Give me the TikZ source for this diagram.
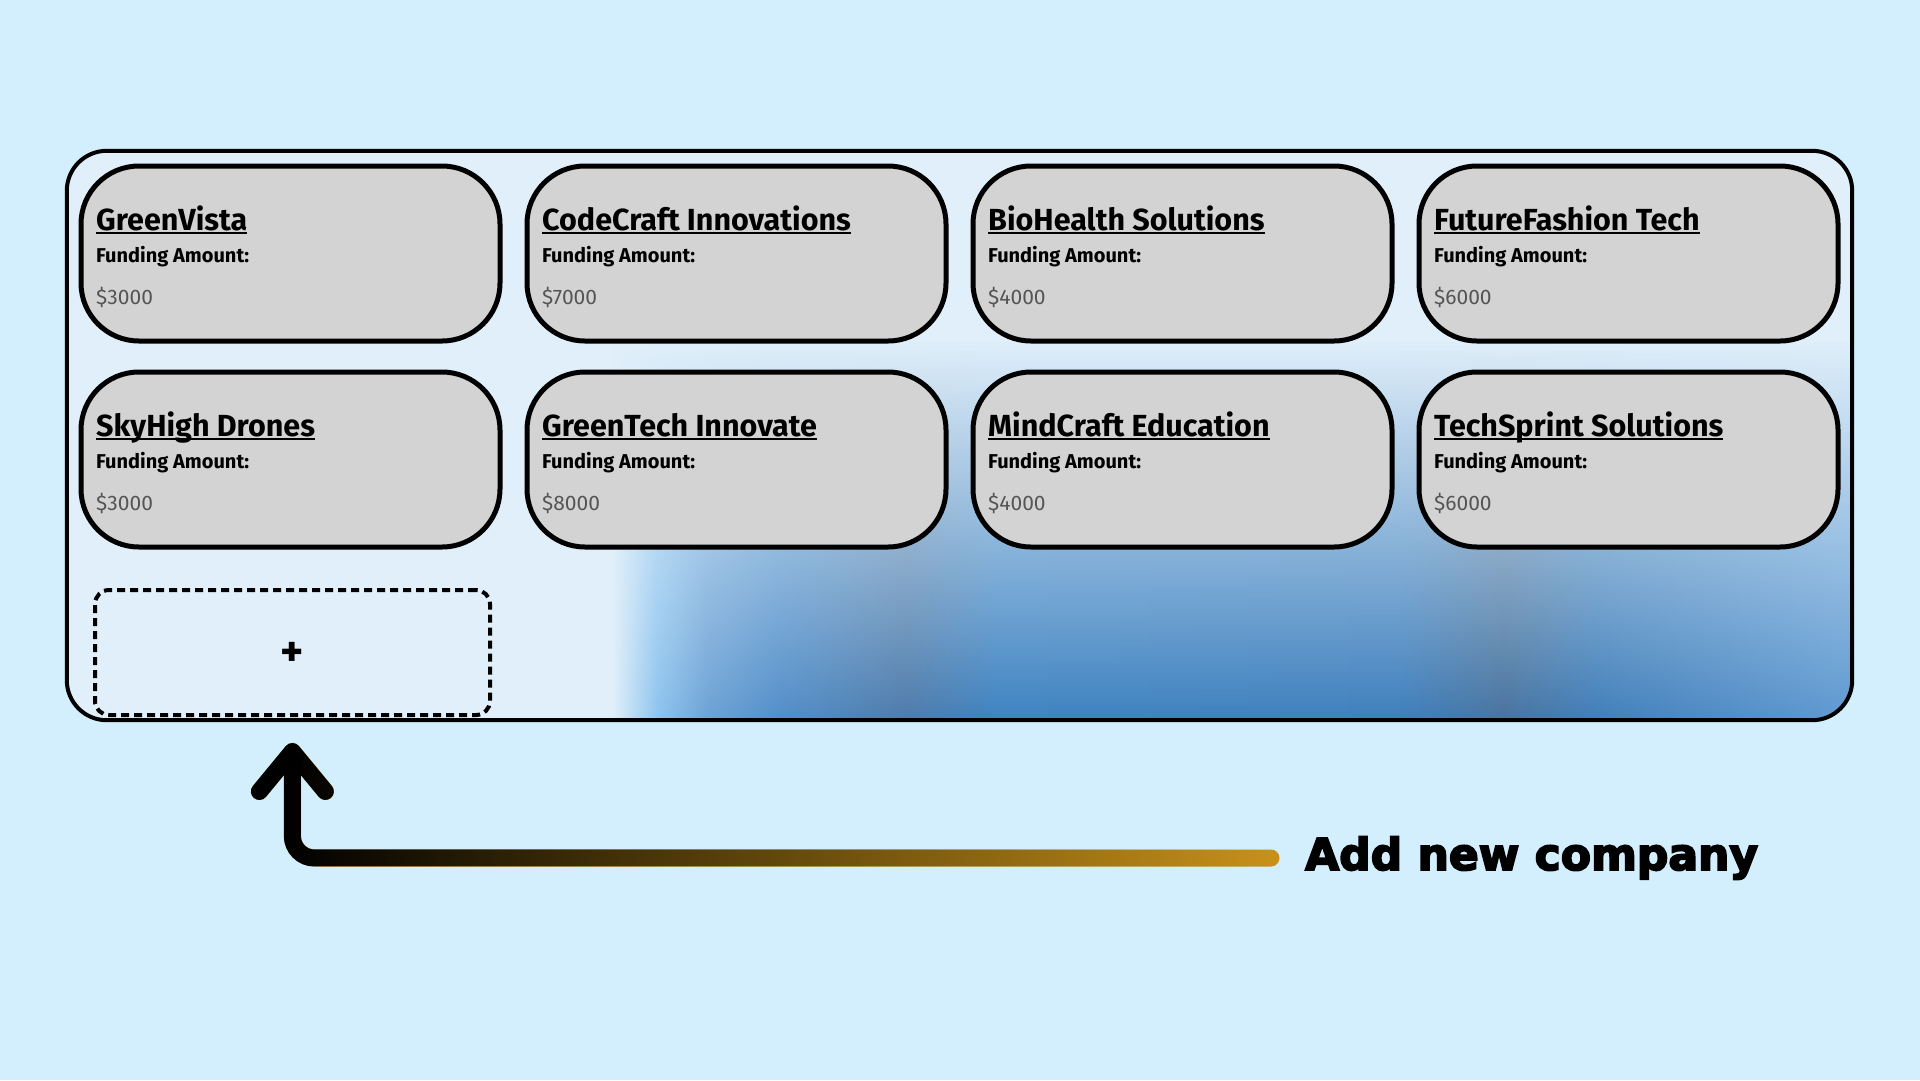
\documentclass[tikz,border=0pt]{standalone}
\usepackage{fontspec}
\setmainfont{Fira Sans}
\newfontfamily\callfont[BoldFeatures={FakeBold=4}]{DejaVu Sans}
\usetikzlibrary{arrows.meta,fadings}

\definecolor{skybg}{HTML}{D3EFFD}
\definecolor{cardgray}{HTML}{D3D3D3}
\definecolor{sumgray}{HTML}{555555}
\definecolor{arrowgold}{HTML}{C9921A}
\definecolor{panA}{HTML}{E0EFFA}
\definecolor{panB}{HTML}{8CC3EE}
\definecolor{panC}{HTML}{6AA0D4}
\definecolor{panD}{HTML}{4E8CC8}
\definecolor{panE}{HTML}{4A78A8}
\definecolor{panF}{HTML}{3A80C0}
\definecolor{panG}{HTML}{3A7CBB}
\definecolor{panH}{HTML}{44709C}
\definecolor{panI}{HTML}{3D7CB8}
\definecolor{panJ}{HTML}{5A96CF}

\pgfdeclarehorizontalshading{panelblue}{100bp}{color(0bp)=(panA); color(25bp)=(panA); color(27.8bp)=(panA); color(29.5bp)=(panB); color(31.4bp)=(panC); color(34.1bp)=(panD); color(38.9bp)=(panE); color(42.4bp)=(panF); color(57.6bp)=(panG); color(61.6bp)=(panH); color(65.2bp)=(panI); color(74.2bp)=(panJ); color(75bp)=(panJ); color(100bp)=(panJ)}
\tikzfading[name=panelfade, top color=transparent!100, middle color=transparent!0, bottom color=transparent!0]

\newcommand\ulname[1]{\setbox0\hbox{#1}\rlap{\rule[-4pt]{\wd0}{2.5pt}}\box0}

\begin{document}
\begin{tikzpicture}[x=1pt,y=-1pt,
  board/.style={fill=panA, rounded corners=40pt, minimum width=1785pt, minimum height=569pt, inner sep=0pt},
  card/.style={draw=black, line width=5pt, fill=cardgray, rounded corners=58pt, minimum width=419pt, minimum height=175pt, inner sep=0pt},
  coname/.style={anchor=base west, inner sep=0pt, font=\fontsize{30.5}{34}\selectfont\bfseries},
  fundlabel/.style={anchor=base west, inner sep=0pt, font=\fontsize{20}{24}\selectfont\bfseries},
  fundsum/.style={anchor=base west, inner sep=0pt, text=sumgray, font=\fontsize{21}{25}\selectfont},
  addslot/.style={draw=black, line width=4pt, dash pattern=on 8pt off 5pt, rounded corners=14pt, minimum width=395pt, minimum height=125pt, inner sep=0pt, font=\fontsize{44}{46}\selectfont\bfseries},
  newarrow/.style={line width=17pt, rounded corners=22pt, line cap=round, -{Straight Barb[length=40pt,width=66pt,round]}},
  calltext/.style={anchor=west, inner sep=0pt, font=\fontsize{44}{48}\selectfont\callfont\bfseries}]
\useasboundingbox (0,0) rectangle (1920,1080);
\fill[skybg] (0,0) rectangle (1920,1080);

% panel with blurred backdrop
\node[board] (board) at (959.5,435.5) {};
\begin{scope}
\clip[rounded corners=40pt] (board.north west) rectangle (board.south east);
\shade[shading=panelblue, path fading=panelfade] (540,340) rectangle (1860,730);
\end{scope}
\draw[line width=4pt, rounded corners=40pt] (board.north west) rectangle (board.south east);

% first row
\node[card] (greenvista) at (290.5,253.5) {};
\node[coname] (greenvistaname) at (96,230) {\ulname{GreenVista}};
\node[fundlabel] (greenvistalabel) at (96,262) {Funding Amount:};
\node[fundsum] (greenvistasum) at (96,304) {\$3000};

\node[card] (codecraft) at (736.5,253.5) {};
\node[coname] (codecraftname) at (542,230) {\ulname{CodeCraft Innovations}};
\node[fundlabel] (codecraftlabel) at (542,262) {Funding Amount:};
\node[fundsum] (codecraftsum) at (542,304) {\$7000};

\node[card] (biohealth) at (1182.5,253.5) {};
\node[coname] (biohealthname) at (988,230) {\ulname{BioHealth Solutions}};
\node[fundlabel] (biohealthlabel) at (988,262) {Funding Amount:};
\node[fundsum] (biohealthsum) at (988,304) {\$4000};

\node[card] (futurefashion) at (1628.5,253.5) {};
\node[coname] (futurefashionname) at (1434,230) {\ulname{FutureFashion Tech}};
\node[fundlabel] (futurefashionlabel) at (1434,262) {Funding Amount:};
\node[fundsum] (futurefashionsum) at (1434,304) {\$6000};

% second row
\node[card] (skyhigh) at (290.5,459.5) {};
\node[coname] (skyhighname) at (96,436) {\ulname{SkyHigh Drones}};
\node[fundlabel] (skyhighlabel) at (96,468) {Funding Amount:};
\node[fundsum] (skyhighsum) at (96,510) {\$3000};

\node[card] (greentech) at (736.5,459.5) {};
\node[coname] (greentechname) at (542,436) {\ulname{GreenTech Innovate}};
\node[fundlabel] (greentechlabel) at (542,468) {Funding Amount:};
\node[fundsum] (greentechsum) at (542,510) {\$8000};

\node[card] (mindcraft) at (1182.5,459.5) {};
\node[coname] (mindcraftname) at (988,436) {\ulname{MindCraft Education}};
\node[fundlabel] (mindcraftlabel) at (988,468) {Funding Amount:};
\node[fundsum] (mindcraftsum) at (988,510) {\$4000};

\node[card] (techsprint) at (1628.5,459.5) {};
\node[coname] (techsprintname) at (1434,436) {\ulname{TechSprint Solutions}};
\node[fundlabel] (techsprintlabel) at (1434,468) {Funding Amount:};
\node[fundsum] (techsprintsum) at (1434,510) {\$6000};

% add slot and call-out
\node[addslot] (addslot) at (292.5,652.5) {\smash{\raisebox{-14pt}{+}}};
\node[calltext] (addlabel) at (1305,858) {Add new company};
\coordinate (tail) at ([xshift=-34pt]addlabel.west);
\draw[newarrow, arrowgold] (tail) -| ([yshift=-26pt]addslot.south);
\draw[newarrow, black, path fading=east] (tail) -| ([yshift=-26pt]addslot.south);
\end{tikzpicture}
\end{document}
